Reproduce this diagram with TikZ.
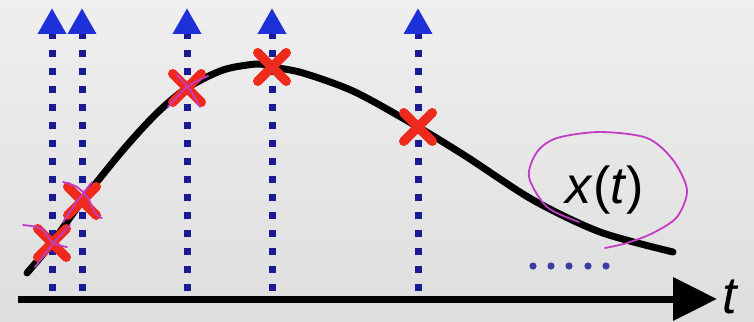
\documentclass[tikz,border=0pt]{standalone}
\usepackage{fontspec}
\setmainfont{Liberation Sans}
\usetikzlibrary{arrows.meta,shapes.misc}
\definecolor{bgtop}{HTML}{EFEFEF}
\definecolor{bgbot}{HTML}{DEDEDE}
\definecolor{dotblue}{HTML}{1A1A92}
\definecolor{tipblue}{HTML}{1E30D8}
\definecolor{markred}{HTML}{EE2A1C}
\definecolor{pen}{HTML}{C23CC6}

\begin{document}
\begin{tikzpicture}[
  x=1pt,y=-1pt,
  axis/.style={line width=7pt,-{Triangle[length=44pt,width=42pt]}},
  signal/.style={line width=7pt,line cap=round,line join=round},
  sampleline/.style={dotblue,line width=7pt,dash pattern=on 7pt off 11pt,
    -{Triangle[length=26pt,width=27pt,color=tipblue]}},
  sample/.style={cross out,draw=markred,line width=9.5pt,line cap=round,minimum size=19pt,inner sep=0pt},
  scribble/.style={pen,line width=1.8pt,line cap=round},
  biglabel/.style={font=\fontsize{52}{60}\selectfont,inner sep=0pt}
]
  \useasboundingbox (0,0) rectangle (754,321);
  \shade[top color=bgtop,bottom color=bgbot] (0,0) rectangle (754,321);

  % sample instants on the curve
  \coordinate (s1) at (52,243);
  \coordinate (s2) at (82,201);
  \coordinate (s3) at (187,88);
  \coordinate (s4) at (272,67);
  \coordinate (s5) at (418,127);
  \coordinate (foot) at (0,291);
  \coordinate (head) at (0,8);
  \coordinate (origin) at (18,299);
  \coordinate (tip) at (717,299);

  % impulses
  \draw[sampleline] (s1 |- foot) -- (s1 |- head);
  \draw[sampleline] (s2 |- foot) -- (s2 |- head);
  \draw[sampleline] (s3 |- foot) -- (s3 |- head);
  \draw[sampleline] (s4 |- foot) -- (s4 |- head);
  \draw[sampleline] (s5 |- foot) -- (s5 |- head);

  % time axis
  \draw[axis] (origin) -- (tip);
  \node[biglabel,anchor=west] (tlabel) at (722,297) {\textit{t}};

  % signal
  \draw[signal] plot[smooth,tension=0.5] coordinates {(27,273) (s1) (s2) (123,150) (157,113) (s3)
    (223,70) (257,64) (s4) (303,73) (355,92) (s5) (467,157) (533,200) (600,232) (673,252)};
  \node[biglabel] (xt) at (605,190) {\textit{x}(\textit{t})};

  % samples
  \node[sample] (m1) at (s1) {};
  \node[sample] (m2) at (s2) {};
  \node[sample] (m3) at (s3) {};
  \node[sample] (m4) at (s4) {};
  \node[sample] (m5) at (s5) {};

  % more samples follow
  \fill[dotblue!85] (533,266) circle (3.6pt) (551,266) circle (3.6pt) (569,266) circle (3.6pt)
    (588,266) circle (3.6pt) (606,266) circle (3.6pt);

  % pen marks
  \draw[scribble] plot[smooth] coordinates {(23,225) (37,227) (44,231) (53,243) (67,247)};
  \draw[scribble] plot[smooth] coordinates {(35,267) (52,245) (70,225)};
  \draw[scribble] plot[smooth] coordinates {(63,182) (77,187) (88,198) (95,213) (102,218)};
  \draw[scribble] plot[smooth] coordinates {(63,222) (78,200) (92,182)};
  \draw[scribble] plot[smooth] coordinates {(168,107) (187,87) (208,76)};
  \draw[scribble] plot[smooth] coordinates {(177,75) (190,90) (200,107)};
  \draw[scribble] plot[smooth] coordinates {(579,222) (547,207) (529,177) (537,152) (557,138) (600,132)
    (647,138) (673,160) (687,190) (677,217) (653,233) (627,243) (605,248)};
\end{tikzpicture}
\end{document}
